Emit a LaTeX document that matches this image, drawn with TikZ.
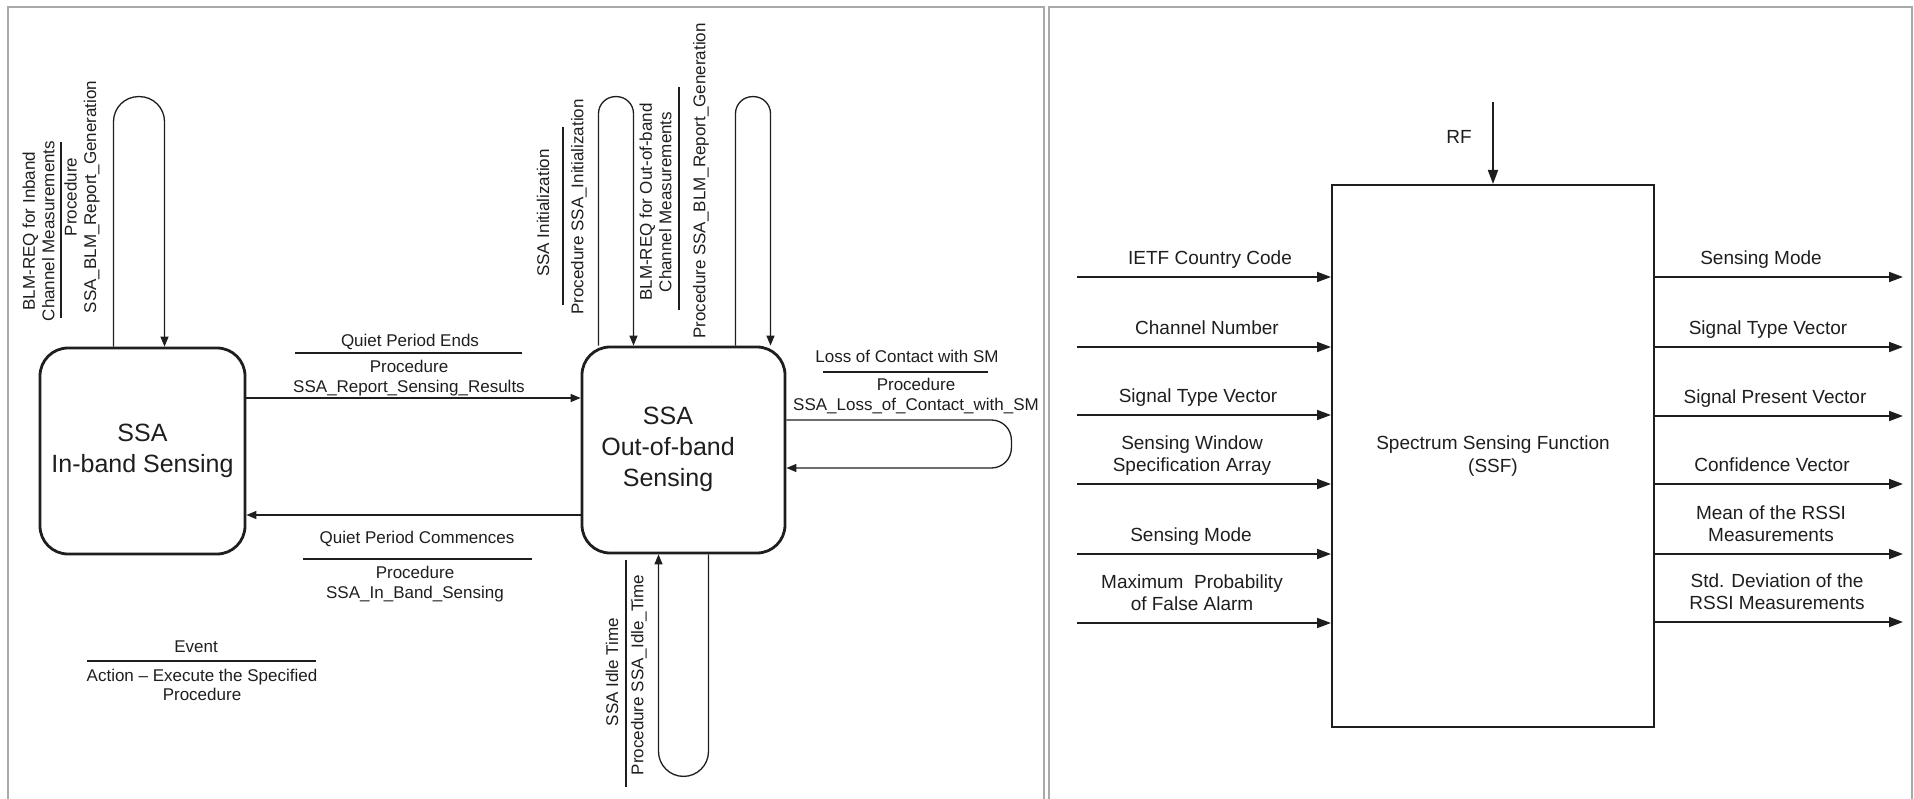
\documentclass[tikz,border=0pt]{standalone}
\usepackage{fontspec}
\setmainfont{Liberation Sans}
\usetikzlibrary{arrows.meta, positioning}
\definecolor{frameline}{HTML}{A9A9A9}
\definecolor{inkline}{HTML}{1E1E1E}

\begin{document}
\begin{tikzpicture}[
		x=1pt, y=-1pt,
		every node/.style={text=inkline},
		statebox/.style={draw=inkline, line width=2.8pt, rounded corners=28pt,
			minimum width=205pt, minimum height=206pt, inner sep=0pt},
		stxt/.style={font=\fontsize{25pt}{31pt}\selectfont, align=center},
		lbl/.style={font=\fontsize{17pt}{19.5pt}\selectfont, align=center, inner sep=1pt},
		vlbl/.style={lbl, rotate=90},
		sepline/.style={draw=inkline, line width=1.1pt},
		arr/.style={-{Triangle[length=10pt, width=8pt]}, line width=1.3pt, draw=inkline},
		ssfbox/.style={draw=inkline, line width=2pt, minimum width=322pt,
			minimum height=542pt, inner sep=0pt},
		rlbl/.style={font=\fontsize{19pt}{22.5pt}\selectfont, align=center,
			inner sep=2pt, text depth=4pt},
		rarr/.style={-{Triangle[length=14pt, width=10pt]}, line width=1.8pt, draw=inkline},
		frame/.style={draw=frameline, line width=1.6pt},
		]
		\useasboundingbox (0,0) rectangle (1914,799);

		% Panel frames
		\draw[frame] (8,799) -- (8,7) -- (1044,7) -- (1044,799);
		\draw[frame] (1049,799) -- (1049,7) -- (1912,7) -- (1912,799);

		%% Left panel: SSA state diagram
		% States
		\node[statebox] (ib) at (142.5,451) {};
		\node[stxt] (ibtxt) at (142.5,451) {SSA\\In-band Sensing};
		\node[statebox, minimum width=203pt] (ob) at (683.5,450) {};
		\node[stxt] (obtxt) at (668,449) {SSA\\Out-of-band\\Sensing};

		% Self loop on in-band state
		\draw[arr, rounded corners=25pt] ([xshift=-29pt]ib.north) -- ++(0,-250)
			-- ++(51,0) -- ([xshift=22pt]ib.north);
		\node[vlbl] (ev1) at (38.5,231) {BLM-REQ for Inband\\Channel Measurements};
		\draw[sepline] (61,142) -- (61,318);
		\node[vlbl] (ac1) at (82,197) {Procedure\\SSA\_BLM\_Report\_Generation};

		% In-band -> out-of-band
		\draw[arr] ([yshift=53pt]ib.east) -- ([yshift=53pt]ib.east -| ob.west);
		\node[lbl] (ev2) at (410,342) {Quiet Period Ends};
		\draw[sepline] (295,353) -- (522,353);
		\node[lbl] (ac2) at (409,378) {Procedure\\SSA\_Report\_Sensing\_Results};

		% Out-of-band -> in-band
		\draw[arr] ([yshift=-65pt]ob.west) -- ([yshift=-65pt]ob.west -| ib.east);
		\node[lbl] (ev3) at (417,539) {Quiet Period Commences};
		\draw[sepline] (303,559) -- (532,559);
		\node[lbl] (ac3) at (415,584) {Procedure\\SSA\_In\_Band\_Sensing};

		% Self loops on out-of-band state
		\draw[arr, rounded corners=17pt] ([xshift=-85pt]ob.north) -- ++(0,-249)
			-- ++(35,0) -- ([xshift=-50pt]ob.north);
		\node[vlbl] (ev4) at (543,213) {SSA Initialization};
		\draw[sepline] (563,127) -- (563,305);
		\node[vlbl] (ac4) at (579,207) {Procedure SSA\_Initialization};

		\draw[arr, rounded corners=17pt] ([xshift=52pt]ob.north) -- ++(0,-249)
			-- ++(35,0) -- ([xshift=87pt]ob.north);
		\node[vlbl] (ev5) at (655.5,202) {BLM-REQ for Out-of-band\\Channel Measurements};
		\draw[sepline] (679,87) -- (679,310);
		\node[vlbl] (ac5) at (701,181) {Procedure SSA\_BLM\_Report\_Generation};

		\draw[arr, rounded corners=20pt] ([yshift=30pt]ob.east) -- ++(225,0)
			-- ++(0,48) -- ([yshift=-18pt]ob.east);
		\node[lbl] (ev6) at (907,356) {Loss of Contact with SM};
		\draw[sepline] (823,372) -- (988,372);
		\node[lbl] (ac6) at (916,396) {Procedure\\SSA\_Loss\_of\_Contact\_with\_SM};

		\draw[arr, rounded corners=25pt] ([xshift=25pt]ob.south) -- ++(0,222)
			-- ++(-50,0) -- ([xshift=-25pt]ob.south);
		\node[vlbl] (ev7) at (612,672) {SSA Idle Time};
		\draw[sepline] (626,560) -- (626,787);
		\node[vlbl] (ac7) at (639,675) {Procedure SSA\_Idle\_Time};

		% Legend
		\node[lbl] (evkey) at (196,647) {Event};
		\draw[sepline] (87,661) -- (316,661);
		\node[lbl] (ackey) at (202,685) {Action -- Execute the Specified\\Procedure};

		%% Right panel: spectrum sensing function
		\node[ssfbox] (ssf) at (1493,456) {};
		\node[rlbl, text depth=0pt] (ssftxt) at (1493,454) {Spectrum Sensing Function\\(SSF)};

		\coordinate (rfin) at (1493,102);
		\draw[rarr] (rfin) -- (ssf.north);
		\node[rlbl, text depth=0pt] (rf) at (1459,137) {RF};

		% Inputs
		\foreach \i/\y/\x/\t in {1/277/1210/IETF Country Code,
				2/347/1207/Channel Number,
				3/415/1198/Signal Type Vector,
				4/484/1192/{Sensing Window\\Specification Array},
				5/554/1191/Sensing Mode,
				6/623/1192/{Maximum~ Probability\\of False Alarm}} {
			\coordinate (in\i) at (1077,\y);
			\draw[rarr] (in\i) -- (in\i -| ssf.west);
			\node[rlbl, anchor=south] (inl\i) at (\x,\y-6) {\t};
		}

		% Outputs
		\foreach \i/\y/\x/\t in {1/277/1761/Sensing Mode,
				2/347/1768/Signal Type Vector,
				3/416/1775/Signal Present Vector,
				4/484/1772/Confidence Vector,
				5/554/1771/{Mean of the RSSI\\Measurements},
				6/622/1777/{Std. Deviation of the\\RSSI Measurements}} {
			\coordinate (out\i) at (1903,\y);
			\draw[rarr] (out\i -| ssf.east) -- (out\i);
			\node[rlbl, anchor=south] (outl\i) at (\x,\y-6) {\t};
		}
	\end{tikzpicture}
\end{document}
